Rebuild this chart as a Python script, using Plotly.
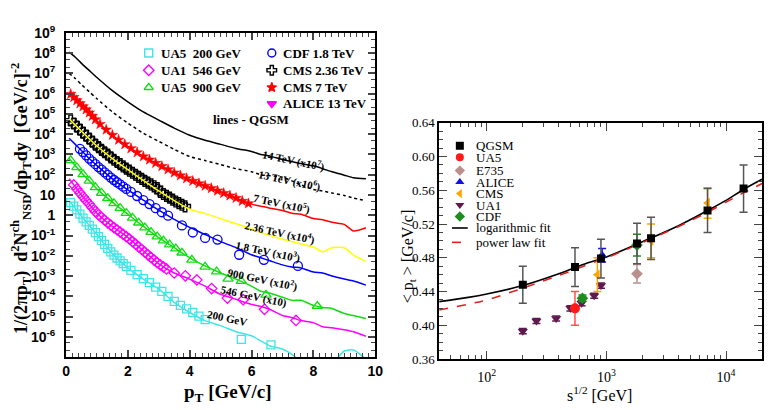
import plotly.graph_objects as go

W, H = 776, 410

# ---------------- Left panel: pT spectra (values are log10 of plotted value, scale factors included)
LINE_PT = [0.1, 0.3, 0.5, 0.75, 1.0, 1.5, 2.0, 2.5, 3.0, 3.5, 4.0, 4.5, 5.0, 5.5, 6.0, 6.3, 6.6, 7.0, 7.3, 7.6, 8.0, 8.3, 8.6, 9.0, 9.3, 9.7]
Q14 = [8.05, 7.8, 7.5, 7.15, 6.8, 6.15, 5.6, 5.1, 4.7, 4.3, 3.95, 3.7, 3.5, 3.3, 3.15, 3.0, 2.92, 2.75, 2.65, 2.55, 2.44, 2.3, 2.15, 1.98, 1.85, 1.8]
Q13 = [7.0, 6.75, 6.45, 6.1, 5.75, 5.1, 4.55, 4.05, 3.65, 3.25, 2.9, 2.7, 2.5, 2.3, 2.15, 2.0, 1.95, 1.88, 1.7, 1.5, 1.27, 1.2, 1.1, 0.98, 0.85, 0.72]
Q7 = [6.05, 5.75, 5.45, 5.05, 4.65, 3.95, 3.4, 2.9, 2.5, 2.1, 1.75, 1.45, 1.15, 0.85, 0.55, 0.45, 0.35, 0.24, 0.1, 0.05, -0.16, -0.22, -0.35, -0.45, -0.78, -0.62]
Q236 = [4.75, 4.45, 4.15, 3.78, 3.42, 2.8, 2.25, 1.72, 1.2, 0.72, 0.3, 0.08, -0.17, -0.42, -0.68, -0.85, -1.0, -1.18, -1.3, -1.42, -1.57, -1.8, -1.6, -1.6, -1.97, -2.28]
Q18 = [3.8, 3.5, 3.2, 2.8, 2.45, 1.8, 1.25, 0.75, 0.25, -0.2, -0.6, -0.95, -1.3, -1.6, -1.95, -2.1, -2.25, -2.45, -2.55, -2.6, -2.8, -2.85, -3.0, -3.15, -3.25, -3.45]
Q900 = [2.8, 2.45, 2.1, 1.7, 1.3, 0.65, 0.05, -0.55, -1.1, -1.6, -2.1, -2.5, -2.85, -3.15, -3.5, -3.75, -3.85, -4.05, -4.2, -4.2, -4.45, -4.55, -4.6, -4.85, -4.95, -5.1]
Q546 = [1.8, 1.4, 1.0, 0.55, 0.1, -0.55, -1.1, -1.75, -2.4, -2.85, -3.15, -3.5, -3.9, -4.15, -4.4, -4.5, -4.65, -4.95, -5.05, -5.2, -5.3, -5.5, -5.55, -5.65, -5.75, -5.97]
Q200 = [0.7, 0.35, -0.05, -0.5, -0.95, -1.9, -2.6, -3.15, -3.65, -4.3, -4.8, -5.2, -5.45, -5.75, -5.95, -6.2, -6.45, -6.6, -6.85, -7.2, -7.05, -7.1, -7.3, -6.7, -6.65, -7.1]

CMS7_PT = [0.15, 0.25, 0.35, 0.45, 0.55, 0.65, 0.75, 0.85, 0.95, 1.1, 1.3, 1.5, 1.7, 1.9, 2.1, 2.3, 2.5, 2.7, 2.9, 3.1, 3.3, 3.5, 3.7, 3.9, 4.1, 4.3, 4.5, 4.7, 4.9, 5.1, 5.3, 5.5, 5.7, 5.9]
CMS7_V = [5.98, 5.83, 5.67, 5.52, 5.37, 5.22, 5.06, 4.9, 4.73, 4.5, 4.22, 3.96, 3.72, 3.5, 3.3, 3.1, 2.9, 2.74, 2.58, 2.42, 2.26, 2.1, 1.96, 1.82, 1.69, 1.57, 1.45, 1.33, 1.21, 1.09, 0.97, 0.85, 0.7, 0.58]

CMS236_PT = [0.15, 0.25, 0.35, 0.45, 0.55, 0.65, 0.75, 0.85, 0.95, 1.05, 1.15, 1.25, 1.35, 1.45, 1.55, 1.65, 1.75, 1.85, 1.95, 2.05, 2.15, 2.25, 2.35, 2.45, 2.55, 2.65, 2.75, 2.85, 2.95, 3.05, 3.15, 3.25, 3.35, 3.45, 3.55, 3.65, 3.75, 3.85]
CMS236_V = [4.68, 4.53, 4.38, 4.23, 4.08, 3.93, 3.78, 3.64, 3.49, 3.36, 3.23, 3.11, 2.99, 2.86, 2.74, 2.63, 2.52, 2.41, 2.3, 2.2, 2.1, 2.0, 1.9, 1.8, 1.7, 1.61, 1.52, 1.43, 1.34, 1.15, 1.05, 0.96, 0.87, 0.77, 0.68, 0.6, 0.52, 0.44]

CDF_PT = [0.45, 0.55, 0.65, 0.75, 0.85, 0.95, 1.05, 1.15, 1.25, 1.35, 1.45, 1.55, 1.65, 1.75, 1.85, 1.95, 2.1, 2.3, 2.5, 2.7, 2.9, 3.1, 3.3, 3.75, 4.1, 4.5, 4.9, 5.6, 6.4, 7.5]
CDF_V = [3.28, 3.12, 2.96, 2.8, 2.66, 2.52, 2.38, 2.25, 2.12, 1.99, 1.86, 1.74, 1.63, 1.52, 1.41, 1.3, 1.15, 0.95, 0.75, 0.55, 0.35, 0.15, -0.02, -0.5, -0.85, -1.12, -1.2, -1.95, -2.2, -2.5]

UA5_900_PT = [0.15, 0.35, 0.55, 0.75, 0.95, 1.15, 1.35, 1.55, 1.75, 1.95, 2.15, 2.35, 2.55, 2.75, 2.95, 3.15, 3.35, 3.55, 3.75, 4.07, 4.5, 4.87, 5.24, 5.67, 6.47, 8.13]
UA5_900_V = [2.71, 2.36, 2.02, 1.7, 1.38, 1.1, 0.84, 0.59, 0.35, 0.11, -0.13, -0.37, -0.61, -0.83, -1.05, -1.25, -1.45, -1.65, -1.85, -2.2, -2.55, -2.78, -3.14, -3.25, -3.93, -4.48]

UA1_PT = [0.25, 0.35, 0.45, 0.55, 0.65, 0.75, 0.85, 0.95, 1.05, 1.15, 1.25, 1.35, 1.45, 1.55, 1.65, 1.75, 1.85, 1.95, 2.05, 2.15, 2.25, 2.35, 2.45, 2.55, 2.65, 2.75, 2.85, 2.95, 3.05, 3.15, 3.25, 3.5, 3.86, 4.23, 4.71, 5.22, 5.73, 6.42, 7.44]
UA1_V = [1.5, 1.3, 1.1, 0.91, 0.73, 0.55, 0.37, 0.19, 0.03, -0.11, -0.24, -0.37, -0.49, -0.61, -0.72, -0.83, -0.94, -1.05, -1.17, -1.3, -1.43, -1.56, -1.69, -1.82, -1.95, -2.08, -2.21, -2.34, -2.45, -2.55, -2.65, -2.85, -2.99, -3.19, -3.62, -4.09, -4.17, -4.64, -5.19]

UA5_200_PT = [0.15, 0.25, 0.35, 0.45, 0.55, 0.65, 0.75, 0.85, 0.95, 1.05, 1.15, 1.25, 1.35, 1.45, 1.55, 1.65, 1.75, 1.85, 1.95, 2.1, 2.3, 2.5, 2.7, 2.9, 3.1, 3.3, 3.5, 3.7, 3.9, 4.1, 4.3, 4.5, 5.67, 6.63]
UA5_200_V = [0.62, 0.45, 0.27, 0.06, -0.14, -0.33, -0.5, -0.68, -0.86, -1.05, -1.25, -1.44, -1.63, -1.81, -1.97, -2.11, -2.25, -2.39, -2.53, -2.72, -2.93, -3.13, -3.33, -3.55, -3.76, -4.0, -4.25, -4.45, -4.62, -4.8, -4.98, -5.15, -6.13, -6.4]

CURVE_LABELS = ["14 TeV (x10<sup>7</sup>)", "13 TeV (x10<sup>6</sup>)", "7 TeV (x10<sup>5</sup>)",
                "2.36 TeV (x10<sup>4</sup>)", "1.8 TeV (x10<sup>3</sup>)", "900 GeV (x10<sup>2</sup>)",
                "546 GeV (x10)", "200 GeV"]
LEFT_LEGEND = ["UA5\u00a0\u00a0200 GeV", "UA1\u00a0\u00a0546 GeV", "UA5\u00a0\u00a0900 GeV",
               "CDF 1.8 TeV", "CMS 2.36 TeV", "CMS 7 TeV", "ALICE 13 TeV"]
LEFT_Y_TICKS = list(range(-6, 10))

# ---------------- Right panel: <pT> vs sqrt(s)
QGSM_S = [200, 546, 900, 1800, 2360, 7000, 14000]
QGSM_M = [0.448, 0.469, 0.479, 0.497, 0.503, 0.536, 0.562]
QGSM_E = [0.022, 0.023, 0.023, 0.024, 0.025, 0.026, 0.028]
UA5_S, UA5_M, UA5_E = [546], [0.420], [0.020]
E735_S, E735_M, E735_E = [1800], [0.461], [0.011]
ALICE_S, ALICE_M, ALICE_E = [920], [0.483], [0.008]
CMS_S = [840, 2360, 7000]
CMS_M = [0.460, 0.500, 0.545]
CMS_E = [0.020, 0.020, 0.018]
UA1_S = [200, 260, 380, 500, 620, 790, 900]
UA1_M = [0.393, 0.405, 0.408, 0.420, 0.426, 0.435, 0.447]
UA1_E = [0.003, 0.003, 0.003, 0.003, 0.003, 0.003, 0.003]
CDF_S, CDF_M, CDF_E = [630, 1800], [0.432, 0.495], [0.004, 0.013]
LOGFIT_S = [40, 70, 100, 200, 400, 700, 1000, 2000, 4000, 7000, 10000, 14000, 20000]
LOGFIT_M = [0.428, 0.433, 0.437, 0.447, 0.461, 0.474, 0.481, 0.499, 0.518, 0.536, 0.548, 0.561, 0.573]
POWFIT_S = [40, 70, 100, 200, 400, 700, 1000, 2000, 4000, 7000, 10000, 14000, 20000]
POWFIT_M = [0.418, 0.425, 0.430, 0.444, 0.459, 0.472, 0.480, 0.498, 0.517, 0.534, 0.546, 0.557, 0.568]
RIGHT_LEGEND = ["QGSM", "UA5", "E735", "ALICE", "CMS", "UA1", "CDF", "logarithmic fit", "power law fit"]

# ---------------- styles
CYAN, MAG, GRN, BLU, RED, YEL = "#3fe6e6", "#ff00ff", "#11dd11", "#0000ff", "#ff0000", "#ffff00"
SERIF = "Liberation Serif"
SANS = "Liberation Sans"

def pw(v):
    return [10 ** a for a in v]

fig = go.Figure()

# left markers
def mk(x, y, sym, col, size, lw=1.3):
    fig.add_trace(go.Scatter(x=x, y=pw(y), mode="markers", xaxis="x", yaxis="y", showlegend=False,
                             marker=dict(symbol=sym, size=size, color=col, line=dict(color=col, width=lw))))

mk(UA5_200_PT, UA5_200_V, "square-open", CYAN, 8)
mk(UA1_PT, UA1_V, "diamond-open", MAG, 8)
mk(UA5_900_PT, UA5_900_V, "triangle-up-open", GRN, 9)
mk(CDF_PT, CDF_V, "circle-open", BLU, 9)
mk(CMS236_PT, CMS236_V, "cross-open", "black", 9, 1.4)
mk(CMS7_PT, CMS7_V, "star", RED, 8, 0.5)

for vals, col, dash in [(Q14, "black", "solid"), (Q13, "black", "dot"), (Q7, RED, "solid"), (Q236, YEL, "solid"),
                        (Q18, BLU, "solid"), (Q900, GRN, "solid"), (Q546, MAG, "solid"), (Q200, CYAN, "solid")]:
    fig.add_trace(go.Scatter(x=LINE_PT, y=pw(vals), mode="lines", xaxis="x", yaxis="y", showlegend=False,
                             line=dict(color=col, width=1.5, dash=dash, shape="spline", smoothing=0.6)))

# right panel data
def rk(s, m, e, sym, col, size, ecol, lw=0):
    fig.add_trace(go.Scatter(x=s, y=m, mode="markers", xaxis="x2", yaxis="y2", showlegend=False,
                             marker=dict(symbol=sym, size=size, color=col, line=dict(width=lw, color=col)),
                             error_y=dict(type="data", array=e, color=ecol, thickness=1.5, width=4)))

fig.add_trace(go.Scatter(x=LOGFIT_S, y=LOGFIT_M, mode="lines", xaxis="x2", yaxis="y2", showlegend=False,
                         line=dict(color="black", width=1.6, shape="spline")))
fig.add_trace(go.Scatter(x=POWFIT_S, y=POWFIT_M, mode="lines", xaxis="x2", yaxis="y2", showlegend=False,
                         line=dict(color="#e32020", width=1.6, dash="dash", shape="spline")))
rk(UA1_S, UA1_M, UA1_E, "triangle-down", "#5e1a4e", 9, "#5e1a4e")
rk(UA5_S, UA5_M, UA5_E, "circle", "#ff1a1a", 10, "#ff5050")
rk(E735_S, E735_M, E735_E, "diamond", "#bc8f8f", 9, "#bc8f8f")
rk(CDF_S, CDF_M, CDF_E, "diamond", "#1e8c1e", 9, "#1e8c1e")
rk(CMS_S, CMS_M, CMS_E, "triangle-left", "#ffa500", 9, "#ffa500")
rk(ALICE_S, ALICE_M, ALICE_E, "triangle-up", "#1010ee", 9, "#1010ee")
rk(QGSM_S, QGSM_M, QGSM_E, "square", "black", 8, "#555555")

# ---------------- legends (drawn on a full-figure pixel overlay axis)
LEG_L_COL1 = (147, 157)
LEG_L_COL2 = (272, 281)
LEG_L_ROWS = [45, 63, 81, 98]
left_syms = [("square-open", CYAN, 8), ("diamond-open", MAG, 8), ("triangle-up-open", GRN, 8),
             ("circle-open", BLU, 8), ("cross-open", "black", 8), ("star", RED, 7), ("triangle-down", MAG, 8)]
ann = []
for i, (lab, (sym, col, sz)) in enumerate(zip(LEFT_LEGEND, left_syms)):
    col_x = LEG_L_COL1 if i < 3 else LEG_L_COL2
    row = LEG_L_ROWS[i if i < 3 else i - 3]
    fig.add_trace(go.Scatter(x=[col_x[0]], y=[row], mode="markers", xaxis="x3", yaxis="y3", showlegend=False,
                             marker=dict(symbol=sym, size=sz, color=col, line=dict(color=col, width=1.4))))
    ann.append(dict(x=col_x[1], y=row, xref="x3", yref="y3", text=lab, showarrow=False, xanchor="left",
                    yanchor="middle", font=dict(family=SERIF, size=13, color="black", weight="bold")))
ann.append(dict(x=251, y=114, xref="x3", yref="y3", text="lines - QGSM", showarrow=False,
                font=dict(family=SERIF, size=13, color="black", weight="bold")))

LEG_R_X = (463, 477)
LEG_R_ROWS = [142, 154, 168, 180, 192, 204, 216, 228, 243]
right_syms = [("square", "black"), ("circle", "#ff1a1a"), ("diamond", "#bc8f8f"), ("triangle-up", "#1010ee"),
              ("triangle-left", "#ffa500"), ("triangle-down", "#5e1a4e"), ("diamond", "#1e8c1e")]
for i, lab in enumerate(RIGHT_LEGEND):
    row = LEG_R_ROWS[i]
    if i < 7:
        sym, col = right_syms[i]
        fig.add_trace(go.Scatter(x=[LEG_R_X[0]], y=[row], mode="markers", xaxis="x3", yaxis="y3", showlegend=False,
                                 marker=dict(symbol=sym, size=8, color=col)))
    else:
        col, dash = ("black", "solid") if i == 7 else ("#e32020", "dash")
        fig.add_trace(go.Scatter(x=[LEG_R_X[0] - 8, LEG_R_X[0] + 8], y=[row, row], mode="lines", xaxis="x3",
                                 yaxis="y3", showlegend=False, line=dict(color=col, width=1.6, dash=dash)))
    ann.append(dict(x=LEG_R_X[1], y=row, xref="x3", yref="y3", text=lab, showarrow=False, xanchor="left",
                    yanchor="middle", font=dict(family=SERIF, size=13, color="black")))

# curve labels on left panel
LABEL_POS = [(294, 157), (290, 178), (282, 202), (280, 233), (268, 253), (263, 282), (253, 300), (227, 322)]
for t, (x, y) in zip(CURVE_LABELS, LABEL_POS):
    ann.append(dict(x=x, y=y, xref="x3", yref="y3", text=t, showarrow=False, textangle=12,
                    font=dict(family=SERIF, size=11, color="black", weight="bold")))

# axis titles
ann.append(dict(x=17, y=197, xref="x3", yref="y3", showarrow=False, textangle=-90,
                text="1/(2πp<sub>T</sub>)  d<sup>2</sup>N<sup>ch</sup><sub>NSD</sub>/dp<sub>T</sub>dy  [GeV/c]<sup>-2</sup>",
                font=dict(family=SERIF, size=18, color="black", weight="bold")))
ann.append(dict(x=228, y=401, xref="x3", yref="y3", showarrow=False, text="p<sub>T</sub> [GeV/c]",
                font=dict(family=SERIF, size=19, color="black", weight="bold")))
ann.append(dict(x=605, y=402, xref="x3", yref="y3", showarrow=False, text="s<sup>1/2</sup> [GeV]",
                font=dict(family=SERIF, size=16, color="black")))
ann.append(dict(x=411, y=258, xref="x3", yref="y3", showarrow=False, textangle=-90,
                text="< p<sub>t</sub> > [GeV/c]", font=dict(family=SERIF, size=16, color="black")))

def ytxt(k):
    if k == 0:
        return "1"
    if k == 1:
        return "10"
    return "10<sup>%d</sup>" % k

L0, L1, T0, B0 = 63, 377, 24, 363
R0, R1, T1, B1 = 442, 770, 118, 365

fig.update_layout(
    width=W, height=H, autosize=False, margin=dict(l=0, r=0, t=0, b=0),
    paper_bgcolor="white", plot_bgcolor="rgba(0,0,0,0)", showlegend=False,
    annotations=ann,
    xaxis=dict(domain=[L0 / W, L1 / W], range=[0, 10], tickvals=[0, 2, 4, 6, 8, 10], ticks="inside", ticklen=7,
               tickwidth=2, showline=True, linewidth=2, linecolor="black", mirror="allticks", showgrid=False,
               zeroline=False, tickfont=dict(family=SANS, size=14, color="black", weight="bold"),
               minor=dict(ticks="inside", ticklen=4, tickwidth=1.2, dtick=0.2, showgrid=False)),
    yaxis=dict(domain=[1 - B0 / H, 1 - T0 / H], type="log", range=[-7, 9], tickvals=[10 ** k for k in LEFT_Y_TICKS],
               ticktext=[ytxt(k) for k in LEFT_Y_TICKS], ticks="inside", ticklen=7, tickwidth=2, showline=True,
               linewidth=2, linecolor="black", mirror="allticks", showgrid=False, zeroline=False,
               ticklabelstandoff=6,
               tickfont=dict(family=SANS, size=14, color="black", weight="bold"),
               minor=dict(ticks="inside", ticklen=4, tickwidth=1, dtick="D2", showgrid=False)),
    xaxis2=dict(domain=[R0 / W, R1 / W], type="log", range=[1.602, 4.301], tickvals=[100, 1000, 10000],
                ticktext=["10<sup>2</sup>", "10<sup>3</sup>", "10<sup>4</sup>"], ticks="inside", ticklen=8,
                tickwidth=1.3, showline=True, linewidth=1.5, linecolor="black", mirror="allticks", showgrid=False,
                zeroline=False, tickfont=dict(family=SERIF, size=14, color="black"), ticklabelstandoff=4,
                minor=dict(ticks="inside", ticklen=4, tickwidth=1, dtick="D1", showgrid=False), anchor="y2"),
    yaxis2=dict(domain=[1 - B1 / H, 1 - T1 / H], range=[0.36, 0.64], tickvals=[0.36, 0.40, 0.44, 0.48, 0.52, 0.56, 0.60, 0.64],
                ticktext=["0.36", "0.40", "0.44", "0.48", "0.52", "0.56", "0.60", "0.64"], ticks="inside", ticklen=8,
                tickwidth=1.3, showline=True, linewidth=1.5, linecolor="black", mirror="allticks", showgrid=False,
                zeroline=False, tickfont=dict(family=SERIF, size=13, color="black"),
                minor=dict(ticks="inside", ticklen=4, tickwidth=1, dtick=0.01, showgrid=False), anchor="x2"),
    xaxis3=dict(domain=[0, 1], range=[0, W], visible=False, fixedrange=True, anchor="y3"),
    yaxis3=dict(domain=[0, 1], range=[H, 0], visible=False, fixedrange=True, anchor="x3"),
)

fig.write_html("out.html")
